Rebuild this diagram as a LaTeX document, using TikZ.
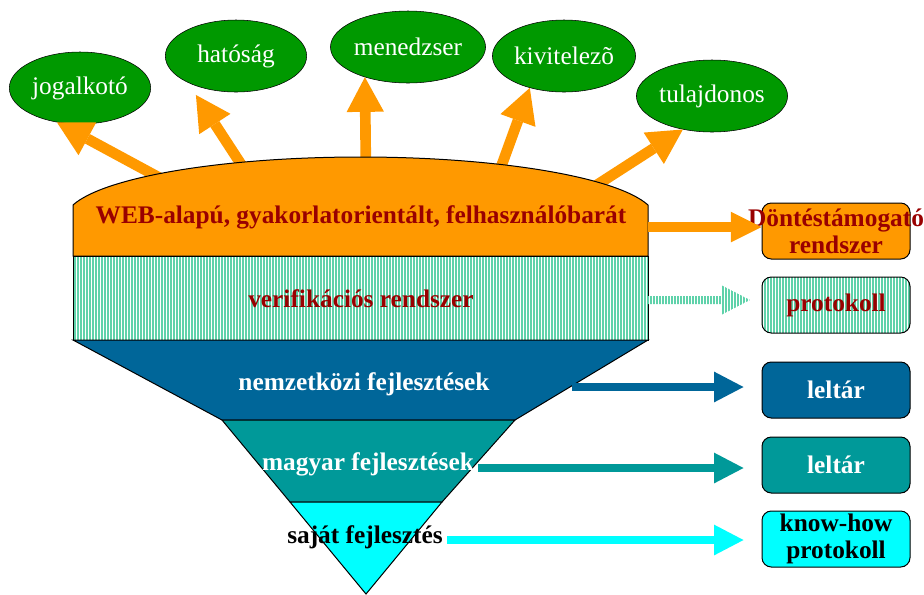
\documentclass[tikz,border=0pt]{standalone}
\usepackage{fontspec}
\setmainfont{Liberation Serif}
\usetikzlibrary{arrows.meta,patterns.meta,shapes.geometric}

\definecolor{capor}{HTML}{FF9900}
\definecolor{txtred}{HTML}{990000}
\definecolor{fblue}{HTML}{006699}
\definecolor{fteal}{HTML}{009999}
\definecolor{fcyan}{HTML}{00FFFF}
\definecolor{egreen}{HTML}{009900}
\definecolor{mint}{RGB}{95,210,170}

\tikzset{
  actor/.style={ellipse, draw=black, fill=egreen, text=white, inner sep=0.5pt,
    minimum width=106pt, minimum height=54pt, font=\fontsize{19}{21}\selectfont},
  layer/.style={draw=black, line width=0.75pt},
  stripes/.style={pattern={Lines[angle=90,distance=2.25pt,line width=0.8pt]}, pattern color=mint},
  lbl/.style={font=\fontsize{19}{20}\selectfont\bfseries, align=center},
  outbox/.style={draw=black, rounded corners=7pt, minimum width=111pt,
    minimum height=42pt, line width=0.75pt},
  uparr/.style={capor, line width=8pt, -{Triangle[length=26pt,width=28pt,line width=0pt]}},
  sidearr/.style={line width=6pt, -{Triangle[length=22pt,width=23pt,line width=0pt]}}
}

\begin{document}
\begin{tikzpicture}[x=0.75pt,y=-0.75pt]
    \fill[white] (0,0) rectangle (924,594);
    \useasboundingbox (0,0) rectangle (924,594);

    \node[actor] (jog) at (80,88)  {jogalkotó};
    \node[actor] (hat) at (236,56) {hatóság};
    \node[actor] (men) at (408,47) {menedzser};
    \node[actor] (kiv) at (564,56) {kivitelezõ};
    \node[actor] (tul) at (712,96) {tulajdonos};

    \coordinate (s1) at (160,178);
    \coordinate (s2) at (250,178);
    \coordinate (s3) at (366,178);
    \coordinate (s4) at (497,178);
    \coordinate (s5) at (589,190);

    \draw[uparr] (s1) -- (jog.236);
    \draw[uparr, shorten >=11pt] (s2) -- (hat.209);
    \draw[uparr] (s3) -- (men.215);
    \draw[uparr] (s4) -- (kiv.223);
    \draw[uparr] (s5) -- (tul.229);

    \draw[layer, fill=capor] (73,256) -- (73,205)
      .. controls (104,177) and (223,157) .. (360.5,157)
      .. controls (498,157) and (617,177) .. (648,205) -- (648,256) -- cycle;
    \draw[layer, stripes] (73,256) rectangle (648,340);
    \draw[layer, fill=fblue] (73,340) -- (648,340) -- (515,420) -- (222,420) -- cycle;
    \draw[layer, fill=fteal] (222,420) -- (515,420) -- (442,502) -- (290,502) -- cycle;
    \draw[layer, fill=fcyan] (290,502) -- (442,502) -- (366,594) -- cycle;

    \node[lbl, txtred, anchor=base] (web) at (361,223) {WEB-alapú, gyakorlatorientált, felhasználóbarát};
    \node[lbl, txtred, anchor=base] (ver) at (361,307) {verifikációs rendszer};
    \node[lbl, white, anchor=base]  (nem) at (364,390) {nemzetközi fejlesztések};
    \node[lbl, white, anchor=base]  (mag) at (368,470) {magyar fejlesztések};
    \node[lbl, anchor=base]         (saj) at (365,543) {saját fejlesztés};

    \node[outbox, fill=capor] (b1) at (836,231) {};
    \node[outbox, stripes]    (b2) at (836,305) {};
    \node[outbox, fill=fblue] (b3) at (836,390) {};
    \node[outbox, fill=fteal] (b4) at (836,465) {};
    \node[outbox, fill=fcyan] (b5) at (836,539) {};

    \node[lbl, txtred] (t1) at (b1) {Döntéstámogató\\rendszer};
    \node[lbl, txtred] (t2) at (b2) {protokoll};
    \node[lbl, white]  (t3) at (b3) {leltár};
    \node[lbl, white]  (t4) at (b4) {leltár};
    \node[lbl]         (t5) at (b5) {know-how\\protokoll};

    \coordinate (r1) at (648,227);
    \coordinate (r2) at (648,300);
    \coordinate (r3) at (572,387);
    \coordinate (r4) at (478,468);
    \coordinate (r5) at (447,540);

    \draw[sidearr, capor, line width=7.5pt, -{Triangle[length=23pt,width=23pt,line width=0pt]}]
      (r1) -- (r1 -| b1.west);
    \path[stripes] (r2) ++(0,-4) -- ++(74,0) -- ++(0,-10.5) -- ++(28,14.5)
      -- ++(-28,14.5) -- ++(0,-10.5) -- ++(-74,0) -- cycle;
    \draw[sidearr, fblue, shorten >=13.5pt] (r3) -- (r3 -| b3.west);
    \draw[sidearr, fteal, shorten >=13.5pt] (r4) -- (r4 -| b4.west);
    \draw[sidearr, fcyan, shorten >=13.5pt] (r5) -- (r5 -| b5.west);
  \end{tikzpicture}
\end{document}
